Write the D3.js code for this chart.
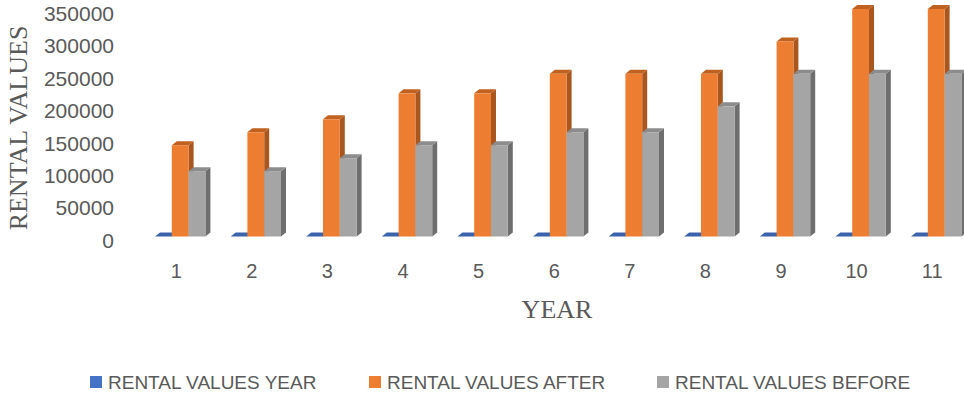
<!DOCTYPE html>
<html>
<head>
<meta charset="utf-8">
<script src="https://cdn.jsdelivr.net/npm/d3@7"></script>
<style>
  body { margin: 0; background: #fff; }
  svg { display: block; }
</style>
</head>
<body>
<div class="chart"></div>
<script>
// chart data
let years = [1, 2, 3, 4, 5, 6, 7, 8, 9, 10, 11];
let seriesNames = ['RENTAL VALUES YEAR', 'RENTAL VALUES AFTER', 'RENTAL VALUES BEFORE'];
let yearValues = [1, 2, 3, 4, 5, 6, 7, 8, 9, 10, 11];
let afterValues = [150000, 170000, 190000, 230000, 230000, 260000, 260000, 260000, 310000, 360000, 360000];
let beforeValues = [110000, 110000, 130000, 150000, 150000, 170000, 170000, 210000, 260000, 260000, 260000];
let yTicks = [0, 50000, 100000, 150000, 200000, 250000, 300000, 350000];

let width = 964, height = 398;
let colors = [
    { front: '#4472C4', side: '#2F528F', top: '#3A63AC' },
    { front: '#ED7D31', side: '#A9561F', top: '#C0611F' },
    { front: '#A5A5A5', side: '#6E6E6E', top: '#8C8C8C' }
];
let depth = { dx: 5, dy: 4 };   // 3D offset of the bars
let floorLift = 6;              // front bottom of bars sits a bit above value 0

let svg = d3.select('.chart')
    .append('svg')
    .attr('width', width)
    .attr('height', height);

// Set the ranges (chart is cropped at top and right, like the original)
let x = d3.scaleBand().domain(years).range([117.2, 999.2]).paddingInner(1 / 3).paddingOuter(0.5);
let xSub = d3.scaleBand().domain([0, 1, 2]).range([0, x.bandwidth()]);
let y = d3.scaleLinear().domain([0, 350000]).range([242.5, 15.5]);

let series = [yearValues, afterValues, beforeValues];
let floorY = y(0) - floorLift;

// Add the bars, group by group so later bars cover earlier sides
years.forEach(function (yr, i) {
    let g = svg.append('g').attr('class', 'group');
    series.forEach(function (vals, s) {
        let x0 = x(yr) + xSub(s);
        let x1 = x0 + xSub.bandwidth();
        let top = Math.min(y(vals[i]), floorY);
        let c = colors[s];
        // side face
        g.append('path')
            .attr('d', `M${x1},${floorY}L${x1 + depth.dx},${floorY - depth.dy}L${x1 + depth.dx},${top - depth.dy}L${x1},${top}Z`)
            .attr('fill', c.side);
        // top face
        g.append('path')
            .attr('d', `M${x0},${top}L${x0 + depth.dx},${top - depth.dy}L${x1 + depth.dx},${top - depth.dy}L${x1},${top}Z`)
            .attr('fill', c.top);
        // front face
        g.append('rect')
            .attr('x', x0)
            .attr('y', top)
            .attr('width', x1 - x0)
            .attr('height', floorY - top)
            .attr('fill', c.front);
    });
});

// Y axis tick labels
svg.append('g')
    .selectAll('text')
    .data(yTicks)
    .enter().append('text')
    .attr('x', 114)
    .attr('y', function (d) { return y(d) - 2; })
    .attr('dy', '0.35em')
    .attr('text-anchor', 'end')
    .style('font-family', 'Liberation Sans, Arial, sans-serif')
    .style('font-size', '21px')
    .style('fill', '#595959')
    .text(function (d) { return d; });

// X axis labels
svg.append('g')
    .selectAll('text')
    .data(years)
    .enter().append('text')
    .attr('x', function (d) { return x(d) + x.bandwidth() / 2 - 4; })
    .attr('y', 278)
    .attr('text-anchor', 'middle')
    .style('font-family', 'Liberation Sans, Arial, sans-serif')
    .style('font-size', '20px')
    .style('fill', '#595959')
    .text(function (d) { return d; });

// adding names to axes
svg.append('text')
    .attr('text-anchor', 'middle')
    .attr('transform', 'translate(27,128)rotate(-90)')
    .style('font-family', 'Liberation Serif, Times New Roman, serif')
    .style('font-size', '26px')
    .style('fill', '#595959')
    .text('RENTAL VALUES');

svg.append('text')
    .attr('text-anchor', 'middle')
    .attr('x', 557)
    .attr('y', 318)
    .style('font-family', 'Liberation Serif, Times New Roman, serif')
    .style('font-size', '26px')
    .style('fill', '#595959')
    .text('YEAR');

// legend
let legendX = [90, 369, 657];
let legend = svg.append('g')
    .selectAll('g')
    .data(seriesNames)
    .enter().append('g')
    .attr('transform', function (d, i) { return 'translate(' + legendX[i] + ',376)'; });

legend.append('rect')
    .attr('width', 12)
    .attr('height', 12)
    .attr('fill', function (d, i) { return colors[i].front; });

legend.append('text')
    .attr('x', 18)
    .attr('y', 6)
    .attr('dy', '0.36em')
    .style('font-family', 'Liberation Sans, Arial, sans-serif')
    .style('font-size', '19px')
    .style('fill', '#595959')
    .text(function (d) { return d; });
</script>
</body>
</html>
